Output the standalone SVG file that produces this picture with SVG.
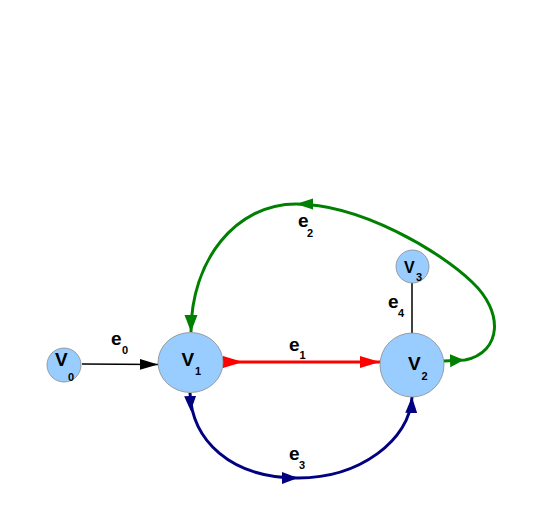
<svg xmlns="http://www.w3.org/2000/svg" width="545" height="509" viewBox="0 0 545 509">
<style>
.node{fill:#99ccff;stroke:#8a8a8a;stroke-width:0.8}
.lbl{font-family:"Liberation Sans",Arial,sans-serif;font-weight:bold;fill:#000}
.big{font-size:19px}
.sub{font-size:11px}
.edge{fill:none}
</style>
<defs>
<marker id="bkE" markerUnits="userSpaceOnUse" markerWidth="20" markerHeight="14" viewBox="0 -7 20 14" refX="18" refY="0" orient="auto"><path d="M0,-5.5 L18,0 L0,5.5 z" fill="#000"/></marker>
<marker id="rS" markerUnits="userSpaceOnUse" markerWidth="22" markerHeight="14" viewBox="0 -7 22 14" refX="0" refY="0" orient="auto"><path d="M0,-6 L20,0 L0,6 z" fill="#ff0000"/></marker>
<marker id="rE" markerUnits="userSpaceOnUse" markerWidth="22" markerHeight="14" viewBox="0 -7 22 14" refX="20" refY="0" orient="auto"><path d="M0,-6 L20,0 L0,6 z" fill="#ff0000"/></marker>
<marker id="gS" markerUnits="userSpaceOnUse" markerWidth="20" markerHeight="16" viewBox="0 -8 20 16" refX="-6" refY="0" orient="auto"><path d="M0,-6.5 L14,0 L0,6.5 z" fill="#008000"/></marker>
<marker id="gE" markerUnits="userSpaceOnUse" markerWidth="20" markerHeight="16" viewBox="0 -8 20 16" refX="17" refY="0" orient="auto"><path d="M0,-6.5 L17,0 L0,6.5 z" fill="#008000"/></marker>
<marker id="gM" markerUnits="userSpaceOnUse" markerWidth="20" markerHeight="16" viewBox="0 -8 20 16" refX="17" refY="0" orient="auto"><path d="M0,-5.5 L17,0 L0,5.5 z" fill="#008000"/></marker>
<marker id="bS" markerUnits="userSpaceOnUse" markerWidth="20" markerHeight="16" viewBox="0 -8 20 16" refX="-3" refY="0" orient="auto"><path d="M0,-6 L15,0 L0,6 z" fill="#000080"/></marker>
<marker id="bE" markerUnits="userSpaceOnUse" markerWidth="20" markerHeight="16" viewBox="0 -8 20 16" refX="16" refY="0" orient="auto"><path d="M0,-6 L16,0 L0,6 z" fill="#000080"/></marker>
</defs>
<g id="connectors">
<g id="e0"><path class="edge" d="M82 364 L158 364.5" stroke="#000" stroke-width="1.5" marker-end="url(#bkE)"/>
<text class="lbl big" x="111" y="345">e</text><text class="lbl sub" x="122" y="354">0</text></g>
<g id="e1"><path class="edge" d="M223 362 L380 362" stroke="#ff0000" stroke-width="3" marker-start="url(#rS)" marker-end="url(#rE)"/>
<text class="lbl big" x="289" y="351">e</text><text class="lbl sub" x="299.5" y="358.5">1</text></g>
<g id="e2"><path class="edge" d="M444 361 L465 360 C502 352 504 312 472 282 C440 251 360 204 296 204" stroke="#008000" stroke-width="3" marker-start="url(#gS)" marker-end="url(#gM)"/>
<path class="edge" d="M296 204 C236 204 191 260 191 332" stroke="#008000" stroke-width="3" marker-end="url(#gE)"/>
<text class="lbl big" x="298" y="227">e</text><text class="lbl sub" x="307" y="236.5">2</text></g>
<g id="e3"><path class="edge" d="M190 393 C192 440 230 478 298 478" stroke="#000080" stroke-width="3" marker-start="url(#bS)" marker-end="url(#bE)"/>
<path class="edge" d="M298 478 C360 478 410 440 412 397" stroke="#000080" stroke-width="3" marker-end="url(#bE)"/>
<text class="lbl big" x="289" y="460">e</text><text class="lbl sub" x="299" y="468.5">3</text></g>
<g id="e4"><path class="edge" d="M412 283 L412 333" stroke="#000" stroke-width="1.5"/>
<text class="lbl big" x="388" y="308">e</text><text class="lbl sub" x="398" y="316.5">4</text></g>
</g>
<g id="V0"><circle class="node" cx="64" cy="365" r="17"/><text class="lbl big" x="55" y="366">V</text><text class="lbl sub" x="68" y="380.5">0</text></g>
<g id="V1"><ellipse class="node" cx="190.5" cy="362.5" rx="32.5" ry="30"/><text class="lbl big" x="181.5" y="366">V</text><text class="lbl sub" x="195" y="375">1</text></g>
<g id="V2"><circle class="node" cx="412" cy="365" r="32"/><text class="lbl big" x="408" y="370">V</text><text class="lbl sub" x="421.5" y="379.5">2</text></g>
<g id="V3"><circle class="node" cx="412.5" cy="266.5" r="16.5"/><text class="lbl" style="font-size:16px" x="404" y="273">V</text><text class="lbl sub" x="416" y="280.5">3</text></g>
</svg>
